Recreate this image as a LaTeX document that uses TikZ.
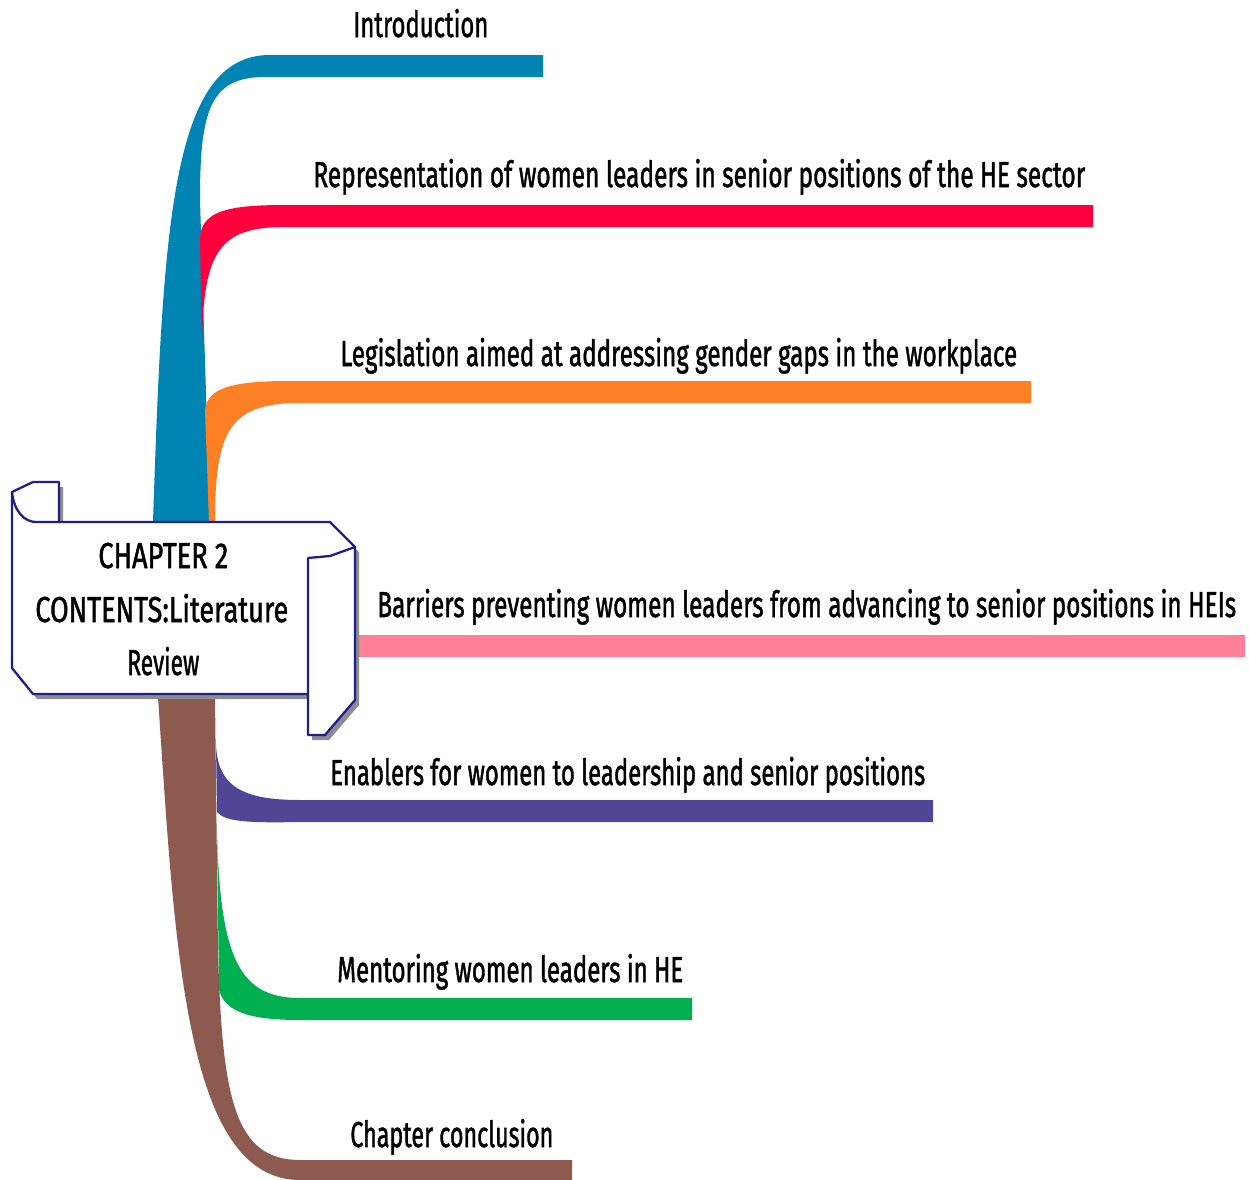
\documentclass[tikz,border=0pt]{standalone}
\usepackage{fontspec}
\setmainfont{Fira Sans}
\newfontfamily\labfont[FakeBold=1.6]{Fira Sans}
\usepackage{graphicx}
\definecolor{cblue}{RGB}{0,132,180}
\definecolor{cred}{RGB}{255,0,60}
\definecolor{corange}{RGB}{255,128,36}
\definecolor{cpink}{RGB}{255,128,150}
\definecolor{cbrown}{RGB}{140,90,78}
\definecolor{cpurple}{RGB}{80,70,150}
\definecolor{cgreen}{RGB}{0,176,80}
\definecolor{boxline}{RGB}{30,30,140}
\definecolor{shadowc}{RGB}{140,140,140}
\newcommand\fitw[2]{\resizebox{#1}{\height}{#2}}
\begin{document}
\begin{tikzpicture}[x=0.02cm,y=-0.02cm,
  lab/.style={anchor=base west, inner sep=0pt, font=\labfont\fontsize{20.5}{24}\selectfont}]
\useasboundingbox (0,0) rectangle (1249,1180);
% upper branches
\fill[cblue] (153,522) .. controls (163,220) and (172,55) .. (270,55) -- (543,55) -- (543,77) -- (265,77)
   .. controls (210,77) and (200,110) .. (200,200) -- (210,522) -- cycle;
\fill[cred] (200,240) .. controls (200,212) and (225,205) .. (285,205) -- (1093,205) -- (1093,227) -- (285,227)
   .. controls (220,227) and (203,250) .. (202,345) -- cycle;
\fill[corange] (205,410) .. controls (208,390) and (225,381) .. (290,381) -- (1031,381) -- (1031,403) -- (300,403)
   .. controls (230,403) and (215,430) .. (215,522) -- (209,522) -- cycle;
% middle branch
\fill[cpink] (340,635) rectangle (1245,657);
% lower branches
\fill[cbrown] (158,697) .. controls (175,950) and (185,1180) .. (300,1180) -- (572,1180) -- (572,1160) -- (300,1160)
   .. controls (235,1160) and (222,1100) .. (218,950) -- (215,697) -- cycle;
\fill[cpurple] (216,745) .. controls (218,785) and (240,800) .. (300,800) -- (933,800) -- (933,822) -- (300,822)
   .. controls (250,823) and (225,822) .. (217,812) -- cycle;
\fill[cgreen] (217,830) .. controls (220,960) and (240,998) .. (300,998) -- (692,998) -- (692,1020) -- (300,1020)
   .. controls (250,1020) and (225,1012) .. (219,990) -- cycle;
% scroll box: shadow
\fill[shadowc, shift={(4,5)}] (12,492) -- (33,482) -- (59,482) -- (59,522) -- (330,522) -- (355,547) -- (355,700)
   -- (325,735) -- (308,735) -- (308,694) -- (33,694) -- (12,668) -- cycle;
% scroll box: body
\filldraw[fill=white, draw=boxline, line width=1.3pt, line join=round] (12,492) -- (33,482) -- (59,482) -- (59,522)
   -- (330,522) -- (355,547) -- (355,700) -- (325,735) -- (308,735) -- (308,694) -- (33,694) -- (12,668) -- cycle;
\draw[boxline, line width=1.3pt, line join=round] (12,492) .. controls (14,512) and (25,522) .. (36,522) -- (59,522);
\draw[boxline, line width=1.3pt, line join=round] (355,547) -- (330,556) -- (308,558) -- (308,694);
% box text
\node[lab] (c1) at (98,568) {\fitw{2.60cm}{CHAPTER 2}};
\node[lab] (c2) at (35,622) {\fitw{5.06cm}{CONTENTS:Literature}};
\node[lab] (c3) at (127,675) {\fitw{1.44cm}{Review}};
% labels
\node[lab] (intro) at (353,37) {\fitw{2.70cm}{Introduction}};
\node[lab] (repr) at (313,187) {\fitw{15.44cm}{Representation of women leaders in senior positions of the HE sector}};
\node[lab] (legis) at (340,366) {\fitw{13.54cm}{Legislation aimed at addressing gender gaps in the workplace}};
\node[lab] (barr) at (377,617) {\fitw{17.18cm}{Barriers preventing women leaders from advancing to senior positions in HEIs}};
\node[lab] (enab) at (330,785) {\fitw{11.90cm}{Enablers for women to leadership and senior positions}};
\node[lab] (ment) at (337,982) {\fitw{6.92cm}{Mentoring women leaders in HE}};
\node[lab] (concl) at (350,1147) {\fitw{4.06cm}{Chapter conclusion}};
\end{tikzpicture}
\end{document}
